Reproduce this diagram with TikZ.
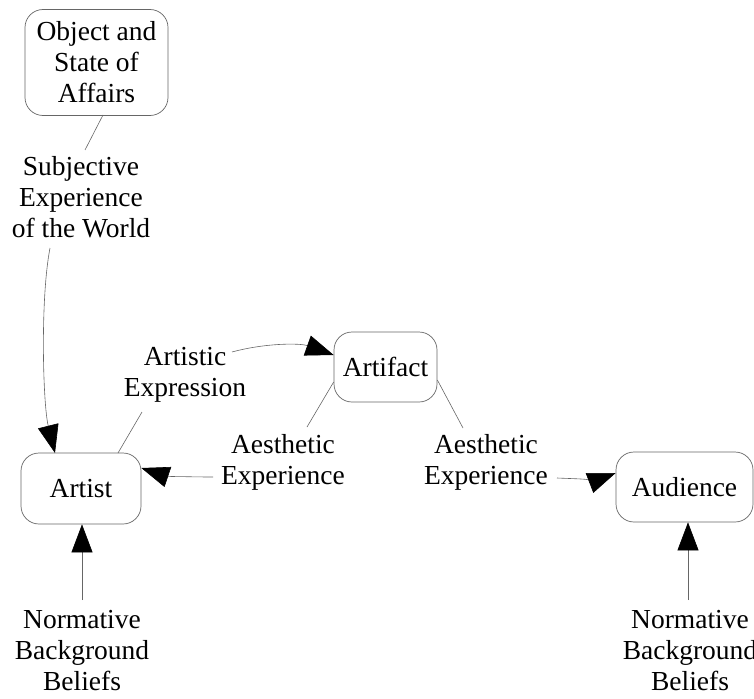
\documentclass[tikz,border=0pt]{standalone}
\usepackage{fontspec}
\setmainfont{Liberation Serif}
\usetikzlibrary{arrows.meta,calc}

\tikzset{
  box/.style={draw=black!60, line width=0.7pt, rounded corners=18pt, inner sep=0pt, align=center},
  lbl/.style={inner sep=0pt, align=center},
  link/.style={draw=black!60, line width=0.6pt},
  arr/.style={link, -{Triangle[length=28pt,width=21pt,color=black]}},
}

\begin{document}
\begin{tikzpicture}[x=1pt, y=-1pt, font=\fontsize{27.5}{31}\selectfont]
  \useasboundingbox (0,0) rectangle (754,698);
  \clip (0,0) rectangle (754,698);

  % boxes
  \node[box, minimum width=143pt, minimum height=106pt] (obj) at (96.5,62.5) {Object and\\State of\\Affairs};
  \node[box, minimum width=120pt, minimum height=71pt] (artist) at (81,488.5) {Artist};
  \node[box, minimum width=103pt, minimum height=70pt] (artifact) at (385.5,367) {Artifact};
  \node[box, minimum width=137pt, minimum height=70pt] (aud) at (684.5,487) {Audience};

  % labels
  \node[lbl] (subj) at (81,197.5) {Subjective\\Experience\\of the World};
  \node[lbl] (artex) at (185,374.5) {Artistic\\Expression};
  \node[lbl] (aeL) at (283,462) {Aesthetic\\Experience};
  \node[lbl] (aeR) at (486,462) {Aesthetic\\Experience};
  \node[lbl] (normL) at (82,650.5) {Normative\\Background\\Beliefs};
  \node[lbl] (normR) at (690,650.5) {Normative\\Background\\Beliefs};

  % connectors
  \draw[link] ($(obj.center)+(6.5,52.5)$) -- ($(subj.center)+(4,-47.5)$);
  \draw[arr] ($(subj.center)+(-31,50.5)$) .. controls (40,300) and (43,405) .. ($(artist.center)+(-26,-35.5)$);
  \draw[link] ($(artist.center)+(37,-35.5)$) -- ($(artex.center)+(-43,37.5)$);
  \draw[arr] ($(artex.center)+(47,-22.5)$) .. controls (265,343) and (300,343) .. ($(artifact.west)+(0,-12)$);
  \draw[link] ($(artifact.west)+(0,15)$) -- ($(aeL.center)+(24,-35)$);
  \draw[arr] ($(aeL.center)+(-70,15)$) .. controls (190,477) and (165,476) .. ($(artist.east)+(0,-20.5)$);
  \draw[link] ($(artifact.east)+(0,13)$) -- ($(aeR.center)+(-23,-34)$);
  \draw[arr] ($(aeR.center)+(71,16)$) .. controls (580,479) and (600,479) .. ($(aud.west)+(0,-14)$);
  \draw[arr] ($(normL.center)+(0,-50.5)$) -- ($(artist.south)+(1,0)$);
  \draw[arr] ($(normR.center)+(-2,-50.5)$) -- ($(aud.south)+(3.5,0)$);
\end{tikzpicture}
\end{document}
